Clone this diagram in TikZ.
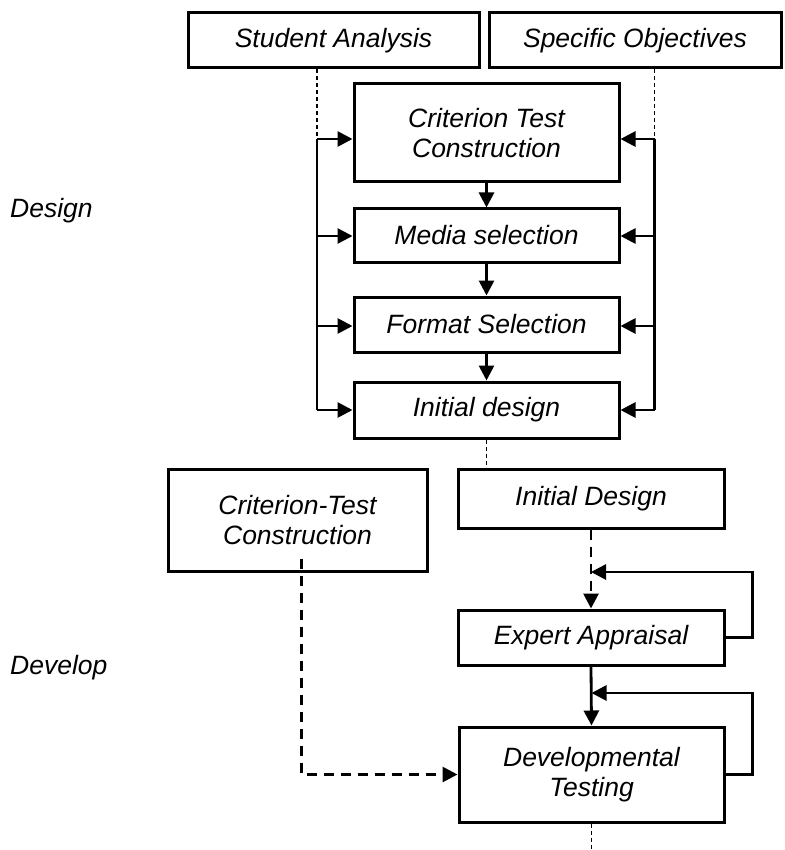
\documentclass[tikz,border=0pt]{standalone}
\usepackage{fontspec}
\setmainfont{Liberation Sans}
\usetikzlibrary{arrows.meta}
\begin{document}
\begin{tikzpicture}[x=1pt,y=-1pt,
  box/.style={draw,line width=3pt,inner sep=0pt,align=center,
    font=\fontsize{26.5}{30}\selectfont\itshape},
  lbl/.style={anchor=base west,inner sep=0pt,font=\fontsize{26.5}{30}\selectfont\itshape},
  conn/.style={line width=2.8pt,-{Triangle[length=15pt,width=15pt]}},
  bus/.style={line width=2.8pt},
  dconn/.style={conn,dash pattern=on 10pt off 7pt},
  thindash/.style={line width=1.2pt,dash pattern=on 4pt off 3pt}]
\useasboundingbox (0,0) rectangle (784,850);

% labels
\node[lbl] (design) at (10,218) {Design};
\node[lbl] (develop) at (10,674) {Develop};

% design phase boxes
\node[box,minimum width=291pt,minimum height=55pt] (sa) at (333.5,40.5) {Student Analysis};
\node[box,minimum width=292pt,minimum height=55pt] (so) at (635,40.5) {Specific Objectives};
\node[box,minimum width=265pt,minimum height=98pt] (ctc) at (486.5,133) {Criterion Test\\Construction};
\node[box,minimum width=265pt,minimum height=53pt] (ms) at (486.5,235.5) {Media selection};
\node[box,minimum width=265pt,minimum height=55pt] (fs) at (486.5,324.5) {Format Selection};
\node[box,minimum width=265pt,minimum height=56pt] (idg) at (486.5,410) {Initial design};

% develop phase boxes
\node[box,minimum width=259pt,minimum height=102pt] (ct2) at (297.5,520) {Criterion-Test\\Construction};
\node[box,minimum width=266pt,minimum height=59pt] (id2) at (591,498.5) {Initial Design};
\node[box,minimum width=266pt,minimum height=55pt] (ea) at (591,637.5) {Expert Appraisal};
\node[box,minimum width=265pt,minimum height=95pt] (dt) at (591.5,774.5) {Developmental\\Testing};

% buses
\coordinate (lb1) at (317,139);
\coordinate (lb2) at (317,236);
\coordinate (lb3) at (317,326);
\coordinate (lb4) at (317,410);
\coordinate (rb1) at (654.5,139);
\coordinate (rb2) at (654.5,236);
\coordinate (rb3) at (654.5,326);
\coordinate (rb4) at (654.5,410);

\draw[thindash] (lb1 |- sa.south) -- (lb1);
\draw[thindash] (rb1 |- so.south) -- (rb1);
\draw[bus] (lb1) -- (lb4);
\draw[bus] (rb1) -- (rb4);
\draw[conn] (lb1) -- (lb1 -| ctc.west);
\draw[conn] (lb2) -- (lb2 -| ms.west);
\draw[conn] (lb3) -- (lb3 -| fs.west);
\draw[conn] (lb4) -- (lb4 -| idg.west);
\draw[conn] (rb1) -- (rb1 -| ctc.east);
\draw[conn] (rb2) -- (rb2 -| ms.east);
\draw[conn] (rb3) -- (rb3 -| fs.east);
\draw[conn] (rb4) -- (rb4 -| idg.east);

% chain
\draw[conn] (ctc.south) -- (ms.north);
\draw[conn] (ms.south) -- (fs.north);
\draw[conn] (fs.south) -- (idg.north);
\coordinate (idgend) at (486.5,465);
\draw[thindash] (idg.south) -- (idgend);

% develop connectors
\draw[dconn] (id2.south) -- (ea.north);
\coordinate (fb1) at (752.5,572);
\draw[conn] (ea.east) -| (fb1) -- (fb1 -| ea.north);
\draw[conn] (ea.south) -- (dt.north);
\coordinate (fb2) at (752.5,693);
\draw[conn] (dt.east) -| (fb2) -- (fb2 -| dt.north);
\draw[dconn] ([xshift=4pt,yshift=14pt]ct2.south) |- (dt.west);
\coordinate (dtend) at (591.5,850);
\draw[thindash] (dt.south) -- (dtend);
\end{tikzpicture}
\end{document}
